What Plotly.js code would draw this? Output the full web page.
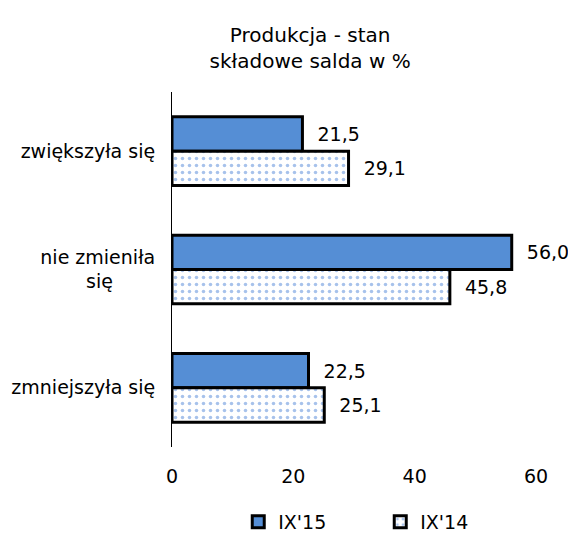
<!DOCTYPE html>
<html><head><meta charset="utf-8">
<script src="https://cdn.plot.ly/plotly-3.0.1.min.js"></script>
<style>body{margin:0;background:#fff}#c{width:568px;height:537px}</style>
</head><body><div id="c"></div>
<script>
const categories = ["zwiększyła się", "nie zmieniła<br>się\u00a0\u00a0\u00a0\u00a0\u00a0\u00a0\u00a0", "zmniejszyła się"];
const seriesNames = ["IX'15", "IX'14"];
const valuesIX15 = [21.5, 56.0, 22.5];
const valuesIX14 = [29.1, 45.8, 25.1];
const xTicks = [0, 20, 40, 60];

const FONT = "DejaVu Sans, Verdana, sans-serif";
const LBL = '\u00a0\u00a0%{x:.1f}';
const traces = [
  {type:'bar', orientation:'h', name:seriesNames[0], y:categories, x:valuesIX15,
   marker:{color:'#558ed5', line:{color:'#000', width:3}},
   texttemplate:LBL, textposition:'outside', cliponaxis:false, constraintext:'none',
   textfont:{family:FONT, size:19, color:'#000'}, hoverinfo:'none'},
  {type:'bar', orientation:'h', name:seriesNames[1], y:categories, x:valuesIX14,
   marker:{color:'#fff', line:{color:'#000', width:3},
     pattern:{shape:'.', fgcolor:'#4f86d8', bgcolor:'#fff', size:7, solidity:0.2, fillmode:'overlay'}},
   texttemplate:LBL, textposition:'outside', cliponaxis:false, constraintext:'none',
   textfont:{family:FONT, size:19, color:'#000'}, hoverinfo:'none'}
];
const layout = {
  width:568, height:537,
  margin:{l:172, r:32, t:92, b:90, autoexpand:false},
  paper_bgcolor:'#fff', plot_bgcolor:'#fff',
  separators:', ',
  font:{family:FONT, size:19, color:'#000'},
  title:{text:'Produkcja - stan<br>składowe salda w %', x:0.546, xanchor:'center', y:0.922, yanchor:'middle',
    font:{family:FONT, size:20, color:'#000'}},
  barmode:'group', bargap:0.42, bargroupgap:0,
  xaxis:{range:[0,60], tickvals:xTicks, ticktext:xTicks.map(String), showgrid:false, zeroline:false,
    showline:false, ticks:'', tickfont:{size:19}, ticklabelstandoff:16, automargin:false},
  yaxis:{autorange:'reversed', showline:true, linecolor:'#000', linewidth:1, ticks:'', showgrid:false,
    tickfont:{size:19}, ticklabelstandoff:12, automargin:false},
  showlegend:true,
  legend:{orientation:'h', x:0.182, xanchor:'left', yref:'container', y:0.028, yanchor:'middle', font:{size:19},
    itemwidth:30, traceorder:'normal', entrywidth:97, entrywidthmode:'pixels'}
};
Plotly.newPlot('c', traces, layout, {displayModeBar:false});
</script></body></html>
